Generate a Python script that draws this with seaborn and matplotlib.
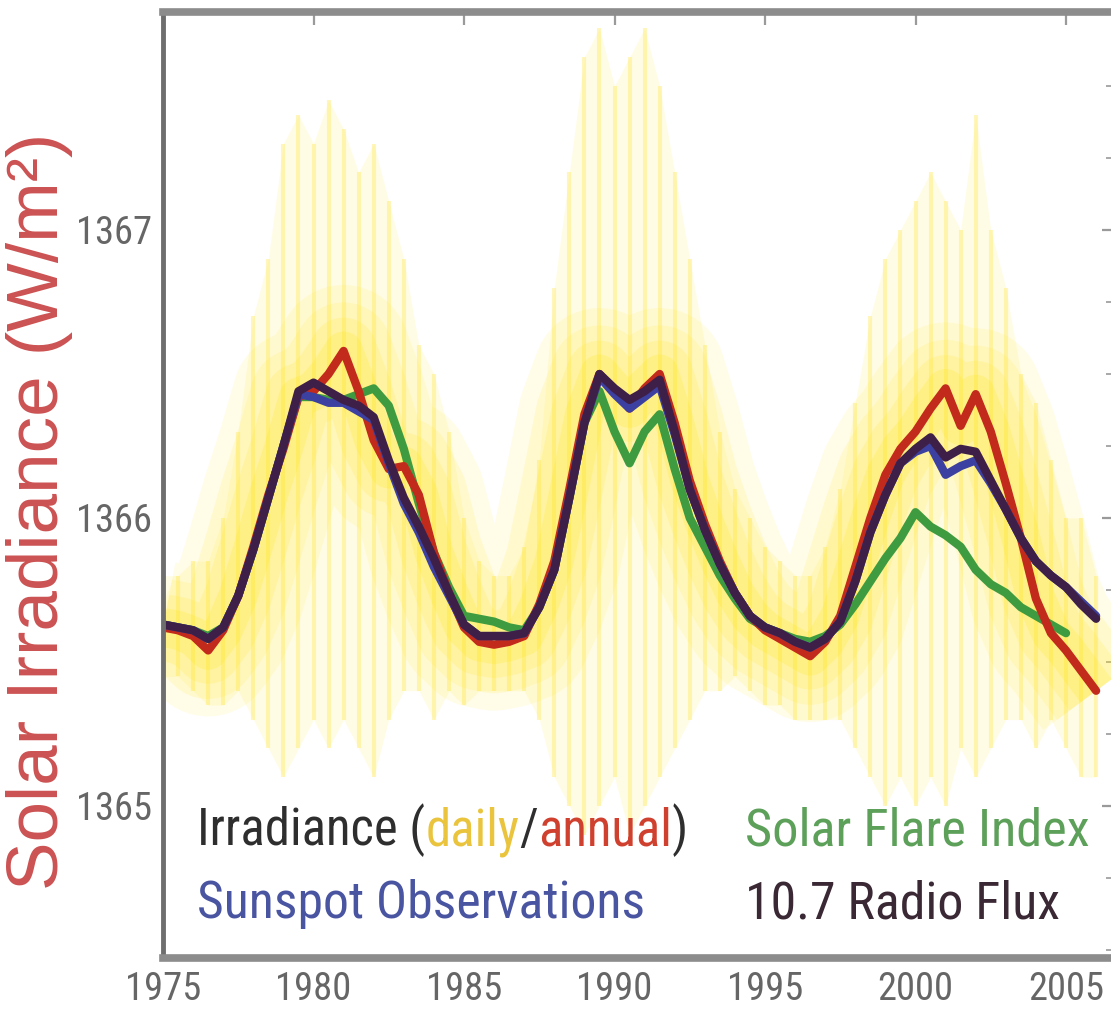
import matplotlib
matplotlib.use('Agg')
import matplotlib.pyplot as plt
import seaborn as sns
from matplotlib import font_manager
from matplotlib.ticker import MultipleLocator

# half-year sample points
years = [1975.0, 1975.5, 1976.0, 1976.5, 1977.0, 1977.5, 1978.0, 1978.5, 1979.0, 1979.5,
         1980.0, 1980.5, 1981.0, 1981.5, 1982.0, 1982.5, 1983.0, 1983.5, 1984.0, 1984.5,
         1985.0, 1985.5, 1986.0, 1986.5, 1987.0, 1987.5, 1988.0, 1988.5, 1989.0, 1989.5,
         1990.0, 1990.5, 1991.0, 1991.5, 1992.0, 1992.5, 1993.0, 1993.5, 1994.0, 1994.5,
         1995.0, 1995.5, 1996.0, 1996.5, 1997.0, 1997.5, 1998.0, 1998.5, 1999.0, 1999.5,
         2000.0, 2000.5, 2001.0, 2001.5, 2002.0, 2002.5, 2003.0, 2003.5, 2004.0, 2004.5,
         2005.0, 2005.5, 2006.0]

# annual irradiance (red)
irradiance = [1365.62, 1365.61, 1365.59, 1365.54, 1365.61, 1365.73, 1365.90, 1366.08, 1366.24, 1366.42,
              1366.44, 1366.50, 1366.58, 1366.44, 1366.27, 1366.17, 1366.18, 1366.08, 1365.88, 1365.74,
              1365.62, 1365.57, 1365.56, 1365.57, 1365.59, 1365.70, 1365.85, 1366.10, 1366.36, 1366.50,
              1366.44, 1366.38, 1366.45, 1366.50, 1366.33, 1366.13, 1365.98, 1365.85, 1365.74, 1365.66,
              1365.61, 1365.58, 1365.55, 1365.52, 1365.57, 1365.66, 1365.83, 1366.00, 1366.15, 1366.24,
              1366.30, 1366.38, 1366.45, 1366.32, 1366.43, 1366.30, 1366.12, 1365.93, 1365.72, 1365.60,
              1365.54, 1365.47, 1365.40]

flare_index = [1365.63, 1365.62, 1365.61, 1365.59, 1365.62, 1365.73, 1365.89, 1366.07, 1366.25, 1366.42,
               1366.42, 1366.41, 1366.41, 1366.43, 1366.45, 1366.39, 1366.24, 1366.05, 1365.88, 1365.76,
               1365.66, 1365.65, 1365.64, 1365.62, 1365.61, 1365.69, 1365.82, 1366.07, 1366.33, 1366.44,
               1366.30, 1366.19, 1366.30, 1366.36, 1366.17, 1366.00, 1365.90, 1365.80, 1365.72, 1365.65,
               1365.62, 1365.60, 1365.58, 1365.57, 1365.59, 1365.63, 1365.70, 1365.78, 1365.86, 1365.93,
               1366.02, 1365.97, 1365.94, 1365.90, 1365.82, 1365.77, 1365.74, 1365.69, 1365.66, 1365.63,
               1365.60, None, None]

sunspots = [1365.63, 1365.62, 1365.61, 1365.58, 1365.62, 1365.73, 1365.89, 1366.07, 1366.25, 1366.43,
            1366.42, 1366.40, 1366.40, 1366.37, 1366.34, 1366.19, 1366.05, 1365.95, 1365.83, 1365.73,
            1365.63, 1365.59, 1365.59, 1365.59, 1365.60, 1365.69, 1365.82, 1366.07, 1366.33, 1366.49,
            1366.43, 1366.38, 1366.42, 1366.46, 1366.29, 1366.10, 1365.96, 1365.84, 1365.74, 1365.66,
            1365.62, 1365.60, 1365.57, 1365.55, 1365.58, 1365.64, 1365.78, 1365.95, 1366.08, 1366.19,
            1366.23, 1366.25, 1366.15, 1366.18, 1366.20, 1366.12, 1366.03, 1365.93, 1365.85, 1365.80,
            1365.76, 1365.71, 1365.66]

radio_flux = [1365.63, 1365.62, 1365.61, 1365.58, 1365.62, 1365.73, 1365.89, 1366.07, 1366.25, 1366.44,
              1366.47, 1366.44, 1366.41, 1366.39, 1366.35, 1366.20, 1366.07, 1365.97, 1365.86, 1365.74,
              1365.63, 1365.59, 1365.59, 1365.59, 1365.60, 1365.69, 1365.82, 1366.07, 1366.33, 1366.50,
              1366.45, 1366.41, 1366.44, 1366.48, 1366.30, 1366.10, 1365.96, 1365.84, 1365.74, 1365.66,
              1365.62, 1365.60, 1365.57, 1365.55, 1365.58, 1365.64, 1365.78, 1365.95, 1366.08, 1366.19,
              1366.24, 1366.28, 1366.21, 1366.24, 1366.23, 1366.13, 1366.03, 1365.93, 1365.85, 1365.80,
              1365.76, 1365.70, 1365.65]

# spread of the daily irradiance values (yellow streaks)
daily_high = [1365.80, 1365.80, 1365.85, 1365.85, 1366.00, 1366.30, 1366.70, 1366.90, 1367.30, 1367.40,
              1367.30, 1367.45, 1367.35, 1367.20, 1367.30, 1367.10, 1366.90, 1366.60, 1366.50, 1366.30,
              1366.00, 1365.85, 1365.80, 1365.80, 1365.90, 1366.20, 1366.80, 1367.20, 1367.60, 1367.70,
              1367.50, 1367.60, 1367.70, 1367.50, 1367.20, 1366.90, 1366.60, 1366.30, 1366.10, 1366.00,
              1365.90, 1365.85, 1365.80, 1365.80, 1365.90, 1366.10, 1366.40, 1366.70, 1366.90, 1367.00,
              1367.10, 1367.20, 1367.10, 1367.00, 1367.40, 1367.00, 1366.80, 1366.50, 1366.40, 1366.20,
              1366.00, 1366.00, 1365.80]
daily_low = [1365.45, 1365.45, 1365.40, 1365.35, 1365.35, 1365.40, 1365.30, 1365.20, 1365.10, 1365.20,
             1365.30, 1365.20, 1365.30, 1365.20, 1365.10, 1365.30, 1365.40, 1365.40, 1365.30, 1365.40,
             1365.35, 1365.40, 1365.40, 1365.40, 1365.40, 1365.30, 1365.10, 1365.00, 1364.90, 1365.00,
             1365.10, 1364.90, 1365.00, 1365.10, 1365.20, 1365.30, 1365.40, 1365.40, 1365.45, 1365.40,
             1365.35, 1365.35, 1365.30, 1365.30, 1365.30, 1365.30, 1365.20, 1365.10, 1365.00, 1365.10,
             1365.00, 1365.10, 1365.00, 1365.20, 1365.10, 1365.20, 1365.30, 1365.30, 1365.20, 1365.30,
             1365.20, 1365.10, 1365.10]

year_ticks = [1975, 1980, 1985, 1990, 1995, 2000, 2005]
value_ticks = [1365, 1366, 1367]

sns.set_theme(style='white')
installed = {f.name for f in font_manager.fontManager.ttflist}
narrow = next((n for n in ['Liberation Sans Narrow', 'Roboto Condensed', 'Liberation Sans']
               if n in installed), 'DejaVu Sans')
wide = 'Liberation Sans' if 'Liberation Sans' in installed else 'DejaVu Sans'
plt.rcParams['font.family'] = [narrow, 'DejaVu Sans']

W, H = 1111, 1021
fig = plt.figure(figsize=(W / 100, H / 100), dpi=100)
left_px, right_px, top_px, bot_px = 163, 1114, 12, 958
ax = fig.add_axes([left_px / W, 1 - bot_px / H, (right_px - left_px) / W, (bot_px - top_px) / H])

# daily values: soft yellow haze plus streaks, brightest close to the annual curve
ax.fill_between(years, daily_low, daily_high, color='#fff48a', alpha=0.22, lw=0)
ax.vlines(years, daily_low, daily_high, color='#ffe22a', lw=3, alpha=0.3)
for width, alpha in [(95, 0.10), (70, 0.12), (48, 0.15), (28, 0.2)]:
    ax.plot(years, irradiance, color='#ffe818', lw=width, alpha=alpha, solid_capstyle='butt')

lw = 6
sns.lineplot(x=years, y=flare_index, color='#3f9b3f', lw=lw, ax=ax)
sns.lineplot(x=years, y=irradiance, color='#c22a1c', lw=lw, ax=ax)
sns.lineplot(x=years, y=sunspots, color='#3c40a0', lw=lw, ax=ax)
sns.lineplot(x=years, y=radio_flux, color='#3e1f48', lw=lw, ax=ax)

ax.set_xlim(1975, 1975 + (right_px - left_px) / 30.1)
ax.set_ylim(1364.472, 1367.757)
ax.set_xticks(year_ticks)
ax.set_yticks(value_ticks)
ax.yaxis.set_minor_locator(MultipleLocator(0.25))
ax.set_xlabel('')
ax.set_ylabel('')

for side in ['top', 'bottom']:
    ax.spines[side].set_linewidth(5.5)
    ax.spines[side].set_color('#8c8c8c')
for side in ['left', 'right']:
    ax.spines[side].set_linewidth(3.5)
    ax.spines[side].set_color('#6e6e6e')

renderer = fig.canvas.get_renderer()


def fitted_size(s, target, dim='width', rotation=0, family=None):
    probe = fig.text(0, 0, s, fontsize=40, rotation=rotation, family=family)
    bb = probe.get_window_extent(renderer)
    probe.remove()
    return 40 * target / (bb.width if dim == 'width' else bb.height)


tick_size = fitted_size('1975', 76)
ax.tick_params(which='both', direction='in', top=True, right=True, color='#9a9a9a',
               labelcolor='#666666', labelsize=tick_size)
ax.tick_params(which='major', length=9, width=1.6)
ax.tick_params(which='minor', length=6, width=1.2)
ax.tick_params(axis='y', pad=8)
ax.tick_params(axis='x', pad=9)

ylab = 'Solar Irradiance (W/m²)'
ylab_family = [wide, 'DejaVu Sans']
fig.text(40 / W, 1 - 511 / H, ylab, rotation=90, ha='center', va='center',
         color='#cc5252', family=ylab_family,
         fontsize=fitted_size(ylab, 757, 'height', 90, ylab_family))


def text_row(x_px, y_px, pieces, target):
    full = ''.join(s for s, _ in pieces)
    size = fitted_size(full, target)
    probe = fig.text(0, 0, '', fontsize=size)

    def width(s):
        probe.set_text(s)
        return probe.get_window_extent(renderer).width

    prefix = ''
    for s, c in pieces:
        prefix += s
        start = x_px + width(prefix) - width(s)
        fig.text(start / W, 1 - y_px / H, s, color=c, fontsize=size, ha='left', va='baseline')
    probe.remove()


text_row(197, 845, [('Irradiance (', '#2e2e2e'), ('daily', '#e9c43c'), ('/', '#2e2e2e'),
                    ('annual', '#d0402e'), (')', '#2e2e2e')], 490)
text_row(745, 845, [('Solar Flare Index', '#5da05a')], 345)
text_row(197, 918, [('Sunspot Observations', '#4a55a2')], 448)
text_row(745, 918, [('10.7 Radio Flux', '#3a2834')], 315)

fig.savefig('out.png', dpi=100)
